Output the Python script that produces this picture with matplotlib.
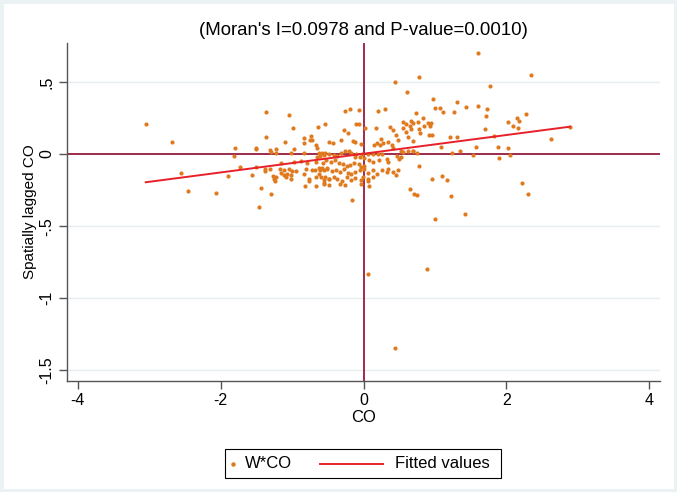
import numpy as np
import matplotlib
matplotlib.use('Agg')
import matplotlib.pyplot as plt
from matplotlib.patches import Rectangle
from matplotlib.lines import Line2D

plt.rcParams['font.family'] = ['Liberation Sans', 'DejaVu Sans']

# values (CO standardised, spatial lag W*CO)
co = [
    -3.05, -2.68, -1.80, -1.82, -2.55, -1.90, -2.46, -2.06, -1.73,
    -1.37, -1.05, -0.99, -1.37, -0.64, -0.54, -1.10, -0.84, -0.75, -0.72, -0.73,
    -0.84, -0.665, -0.65, -1.505, -1.50, -1.31, -1.29, -1.23, -1.22, -1.02,
    -0.97, -0.83, -0.62, -0.585, -0.65, -0.61, -0.55, -1.15, -0.97, -0.88,
    -0.79, -0.665, -1.50, -1.38, -1.38, -1.31, -1.17, -1.12, -1.155, -1.05,
    -1.00, -0.94, -0.80, -0.72, -0.68, -0.63, -0.61, -0.58, -0.515, -1.56,
    -1.27, -1.25, -1.22, -1.12, -1.09, -1.075, -1.02, -1.02, -0.83, -0.76,
    -0.77, -0.665, -0.63, -0.595, -0.56, -0.49, -1.24, -0.82, -0.665, -0.56,
    -1.435, -1.29, -1.47,
    0.44, 0.61, -0.26, -0.19, -0.07, 0.21, 0.305, -0.11, -0.07, -0.27, -0.22,
    0.02, 0.175, 0.375, 0.42, 0.46, 0.56, 0.59, 0.56, 0.595, 0.48, 0.63,
    -0.49, -0.43, -0.31, -0.15, -0.12, -0.04, 0.15, 0.185, 0.25, 0.27, 0.23,
    0.34, 0.395, 0.42, 0.525, 0.56, 0.63, 0.69,
    -0.535, -0.48, -0.42, -0.37, -0.31, -0.255, -0.21, -0.18, -0.12, -0.105,
    -0.02, -0.05, 0.0, 0.07, 0.14, 0.21, 0.26, 0.08, 0.14, 0.22, 0.325, 0.35,
    0.47, 0.53, 0.50, -0.52, -0.57, -0.45, -0.395, -0.34, -0.29, -0.235, -0.19,
    -0.14, -0.06, -0.04, 0.0,
    -0.56, -0.51, -0.44, -0.385, -0.33, -0.27, -0.22, -0.17, -0.115, -0.05,
    0.01, 0.06, 0.14, 0.19, 0.26, 0.325, 0.35, 0.41, 0.45, 0.49,
    -0.54, -0.48, -0.42, -0.37, -0.30, -0.235, -0.18, -0.12, -0.04, -0.01,
    0.07, 0.13, -0.55, -0.48, -0.33, -0.255, -0.04, 0.07, 0.08, -0.16,
    0.65, 0.71, 0.755,
    1.60, 0.78, 1.77, 0.98, 1.00, 1.07, 1.12, 1.31, 1.27, 1.43, 1.61, 1.73,
    1.715, 0.735, 0.665, 0.69, 0.65, 0.77, 0.84, 0.85, 0.91, 0.94, 0.93,
    0.78, 0.795, 0.665, 0.92, 0.96, 0.69, 1.21, 1.31, 1.70, 1.83, 2.03, 2.10,
    2.145, 2.18, 2.16, 1.085, 1.35, 1.57, 1.53, 1.235, 1.89, 2.02, 2.05, 1.90,
    0.70, 0.745, 0.78, 0.955, 1.095, 1.165, 1.23,
    2.34, 2.28, 2.62, 2.22, 2.30, 2.89,
    0.067, 0.89, 0.445, 1.006, 1.42,
]
w_co = [
    0.206, 0.083, 0.042, -0.016, -0.134, -0.155, -0.254, -0.268, -0.092,
    0.289, 0.268, 0.178, 0.120, 0.187, 0.21, 0.081, 0.109, 0.097, 0.097, 0.125,
    0.074, 0.062, 0.039, 0.042, 0.033, 0.026, 0.014, 0.033, 0.005, 0.005,
    0.037, 0.005, 0.009, 0.009, -0.023, -0.014, -0.007, -0.06, -0.053, -0.049,
    -0.065, -0.058, -0.088, -0.106, -0.116, -0.106, -0.106, -0.113, -0.13, -0.106,
    -0.118, -0.118, -0.106, -0.113, -0.109, -0.097, -0.111, -0.095, -0.095, -0.146,
    -0.152, -0.171, -0.157, -0.146, -0.157, -0.141, -0.146, -0.175, -0.136, -0.171,
    -0.185, -0.157, -0.141, -0.159, -0.18, -0.171, -0.185, -0.222, -0.222, -0.21,
    -0.238, -0.275, -0.369,
    0.50, 0.43, 0.298, 0.31, 0.305, 0.298, 0.31, 0.206, 0.21, 0.166, 0.143,
    0.178, 0.182, 0.185, 0.166, 0.132, 0.224, 0.21, 0.178, 0.155, 0.097, 0.12,
    0.083, 0.074, 0.097, 0.09, 0.083, 0.067, 0.06, 0.074, 0.104, 0.078, 0.062,
    0.085, 0.062, 0.039, 0.023, 0.014, 0.023, 0.023,
    0.005, 0.0, -0.007, -0.014, 0.009, 0.023, 0.023, 0.005, -0.023, 0.0,
    0.0, -0.018, -0.028, -0.002, 0.0, 0.0, 0.002, -0.042, -0.055, -0.042, -0.037, -0.053,
    -0.014, -0.018, -0.032, -0.042, -0.065, -0.053, -0.042, -0.06, -0.069, -0.083, -0.074,
    -0.06, -0.069, -0.092, -0.083,
    -0.111, -0.106, -0.12, -0.111, -0.125, -0.102, -0.13, -0.139, -0.125, -0.111,
    -0.106, -0.13, -0.111, -0.139, -0.111, -0.125, -0.106, -0.125, -0.148, -0.111,
    -0.157, -0.171, -0.162, -0.175, -0.185, -0.157, -0.18, -0.166, -0.18, -0.157,
    -0.171, -0.157, -0.199, -0.217, -0.208, -0.217, -0.208, -0.185, -0.222, -0.319,
    -0.24, -0.277, -0.284,
    0.702, 0.53, 0.473, 0.381, 0.317, 0.317, 0.293, 0.362, 0.293, 0.328, 0.335, 0.314,
    0.263, 0.284, 0.231, 0.217, 0.196, 0.224, 0.247, 0.194, 0.213, 0.217, 0.194,
    0.171, 0.143, 0.171, 0.134, 0.13, 0.092, 0.116, 0.12, 0.171, 0.127, 0.224, 0.196,
    0.252, 0.229, 0.178, 0.046, 0.021, 0.046, -0.009, 0.009, 0.051, 0.042, -0.005, -0.03,
    0.023, 0.009, -0.083, -0.175, -0.152, -0.182, -0.293,
    0.55, 0.277, 0.104, -0.199, -0.277, 0.189,
    -0.832, -0.80, -1.347, -0.448, -0.416,
]

# fitted line (ends at min / max of CO)
fit_x = [-3.05, 2.89]
fit_y = [-0.196, 0.189]

x_ticks = [-4, -2, 0, 2, 4]
y_ticks = [-1.5, -1, -0.5, 0, 0.5]
y_ticklabels = ['-1.5', '-1', '-.5', '0', '.5']

dot_color = '#e07a1f'
fit_color = '#e8202a'
ref_color = '#9e2a4c'

W, H = 677, 492
fig = plt.figure(figsize=(W / 100, H / 100), dpi=100)
fig.patch.set_facecolor('white')
fig.patches.append(Rectangle((0, 0), 1, 1, transform=fig.transFigure,
                             fill=False, edgecolor='#eaf2f3', linewidth=5))

ax = fig.add_axes([67 / W, 1 - 380.7 / H, (660 - 67) / W, (380.7 - 43) / H])
ax.set_xlim(-4.153, 4.153)
ax.set_ylim(-1.571, 0.769)

for t in y_ticks:
    if t != 0:
        ax.axhline(t, color='#e6edf0', linewidth=1.0, zorder=0)
ax.axhline(0, color=ref_color, linewidth=1.4, zorder=1)
ax.axvline(0, color=ref_color, linewidth=1.4, zorder=1)

ax.scatter(co, w_co, s=9, color=dot_color, linewidths=0, zorder=3)
ax.plot(fit_x, fit_y, color=fit_color, linewidth=1.4, zorder=4)

for side in ['top', 'right']:
    ax.spines[side].set_visible(False)
for side in ['left', 'bottom']:
    ax.spines[side].set_color('#555555')
    ax.spines[side].set_linewidth(1.0)

ax.set_xticks(x_ticks)
ax.set_xticklabels([str(t) for t in x_ticks])
ax.set_yticks(y_ticks)
ax.set_yticklabels(y_ticklabels, rotation=90, va='center')
ax.tick_params(direction='out', length=6, width=1, color='#555555',
               labelsize=11.5, labelcolor='black', pad=3)

ax.set_xlabel('CO', fontsize=12, labelpad=1)
ax.set_ylabel('Spatially lagged CO', fontsize=11, labelpad=2)
ax.set_title("(Moran's I=0.0978 and P-value=0.0010)", fontsize=13.4, pad=6)


# legend drawn by hand (Stata style: small dot key, long line key)
def fx(px):
    return px / W


def fy(py):
    return 1 - py / H


fig.patches.append(Rectangle((fx(225), fy(478)), fx(501) - fx(225), fy(449) - fy(478),
                             transform=fig.transFigure, fill=False,
                             edgecolor='black', linewidth=0.8))
ly = fy(463.5)
fig.lines.append(Line2D([fx(233)], [ly], transform=fig.transFigure, marker='o',
                        markersize=3.2, color=dot_color, markeredgewidth=0,
                        linestyle='none'))
fig.text(fx(245), ly, 'W*CO', fontsize=12, va='center', ha='left')
fig.lines.append(Line2D([fx(320), fx(383)], [ly, ly], transform=fig.transFigure,
                        color=fit_color, linewidth=1.4))
fig.text(fx(395), ly, 'Fitted values', fontsize=12, va='center', ha='left')

fig.savefig('out.png', dpi=100)
